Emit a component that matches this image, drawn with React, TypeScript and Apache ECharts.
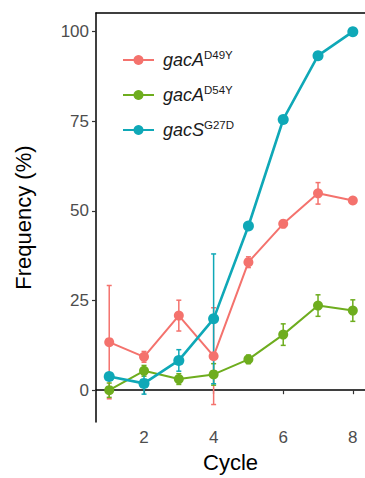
import React, { useEffect, useRef } from "react";
import * as echarts from "echarts";

const cycles = [1, 2, 3, 4, 5, 6, 7, 8];
const d49yMean = [13.4, 9.3, 20.8, 9.5, 35.7, 46.4, 54.9, 52.9];
const d49yErr = [15.8, 1.5, 4.3, 13.5, 1.5, 1.0, 3.0, 0.8];
const d54yMean = [0, 5.4, 3.1, 4.4, 8.6, 15.5, 23.6, 22.2];
const d54yErr = [2.0, 1.5, 1.5, 3.0, 1.2, 3.0, 3.0, 3.0];
const g27dMean = [3.8, 1.9, 8.3, 19.9, 45.8, 75.5, 93.3, 100];
const g27dErr = [1.0, 3.0, 3.0, 18.1, 0.8, 0.8, 0.8, 0.5];
const yTicks = [0, 25, 50, 75, 100];
const xTicks = [2, 4, 6, 8];

const groups = [
  { gene: "gacA", mut: "D49Y", mean: d49yMean, err: d49yErr, color: "#F4726D", width: 2, size: 10 },
  { gene: "gacA", mut: "D54Y", mean: d54yMean, err: d54yErr, color: "#6EAD1E", width: 2, size: 10 },
  { gene: "gacS", mut: "G27D", mean: g27dMean, err: g27dErr, color: "#0FA8B7", width: 2.6, size: 11 },
];

const FONT = "'Liberation Sans', Arial, sans-serif";

export default function App() {
  const ref = useRef<HTMLDivElement>(null);
  useEffect(() => {
    if (!ref.current) return;
    const chart = echarts.init(ref.current, null, { renderer: "svg" });
    const series: any[] = [];
    groups.forEach((g) => {
      const name = g.gene + g.mut;
      series.push({
        type: "custom",
        name: name + " error",
        silent: true,
        itemStyle: { color: g.color },
        encode: { x: 0, y: [1, 2] },
        data: cycles.map((c, i) => [c, g.mean[i] - g.err[i], g.mean[i] + g.err[i]]),
        renderItem: (params: any, api: any) => {
          const x = api.value(0);
          const lo = api.coord([x, api.value(1)]);
          const hi = api.coord([x, api.value(2)]);
          const w = 2.5;
          const style = { stroke: g.color, lineWidth: 1.5 };
          return {
            type: "group",
            children: [
              { type: "line", shape: { x1: hi[0], y1: hi[1], x2: lo[0], y2: lo[1] }, style },
              { type: "line", shape: { x1: hi[0] - w, y1: hi[1], x2: hi[0] + w, y2: hi[1] }, style },
              { type: "line", shape: { x1: lo[0] - w, y1: lo[1], x2: lo[0] + w, y2: lo[1] }, style },
            ],
          };
        },
        z: 2,
      });
      series.push({
        type: "line",
        name,
        data: cycles.map((c, i) => [c, g.mean[i]]),
        symbol: "circle",
        symbolSize: g.size,
        showSymbol: true,
        color: g.color,
        lineStyle: { color: g.color, width: g.width },
        itemStyle: { color: g.color },
        z: 3,
      });
    });

    chart.setOption({
      animation: false,
      grid: { left: 96, top: 13, right: 0, bottom: 55 },
      legend: {
        orient: "vertical",
        left: 117,
        top: 44,
        itemWidth: 31,
        itemHeight: 12.5,
        itemGap: 15,
        data: groups.map((g) => g.gene + g.mut),
        formatter: (n: string) => {
          const g = groups.find((gg) => gg.gene + gg.mut === n)!;
          return "{i|" + g.gene + "}{s|" + g.mut + "}";
        },
        textStyle: {
          rich: {
            i: { fontFamily: FONT, fontSize: 18, fontStyle: "italic", color: "#1a1a1a", lineHeight: 22, padding: [0, 0, 0, 4] },
            s: { fontFamily: FONT, fontSize: 11.5, color: "#1a1a1a", lineHeight: 22, verticalAlign: "top" },
          },
        },
      },
      xAxis: [
        {
          type: "value",
          min: 0.62,
          max: 8.35,
          name: "Cycle",
          nameLocation: "middle",
          nameGap: 27,
          nameTextStyle: { fontFamily: FONT, fontSize: 22, color: "#000" },
          splitLine: { show: false },
          axisLine: { lineStyle: { color: "#000", width: 1.5 } },
          axisTick: { customValues: xTicks, length: 4, lineStyle: { color: "#333", width: 1.2 } },
          axisLabel: { customValues: xTicks, fontFamily: FONT, fontSize: 17, color: "#4d4d4d", margin: 7 },
        },
        {
          type: "value",
          position: "top",
          min: 0.62,
          max: 8.35,
          splitLine: { show: false },
          axisLine: { show: true, lineStyle: { color: "#000", width: 1.5 } },
          axisTick: { show: false },
          axisLabel: { show: false },
        },
      ],
      yAxis: {
        type: "value",
        min: -8.9,
        max: 105.2,
        name: "Frequency (%)",
        nameLocation: "middle",
        nameGap: 62,
        nameTextStyle: { fontFamily: FONT, fontSize: 22, color: "#000" },
        splitLine: { show: false },
        axisLine: { show: true, lineStyle: { color: "#000", width: 1.5 } },
        axisTick: { show: true, customValues: yTicks, length: 4, lineStyle: { color: "#333", width: 1.2 } },
        axisLabel: { customValues: yTicks, fontFamily: FONT, fontSize: 17, color: "#4d4d4d", margin: 7 },
      },
      series,
    });
    return () => chart.dispose();
  }, []);
  return (
    <div
      ref={ref}
      style={{ position: "fixed", left: 0, top: 0, width: 365, height: 478, background: "#fff" }}
    />
  );
}
